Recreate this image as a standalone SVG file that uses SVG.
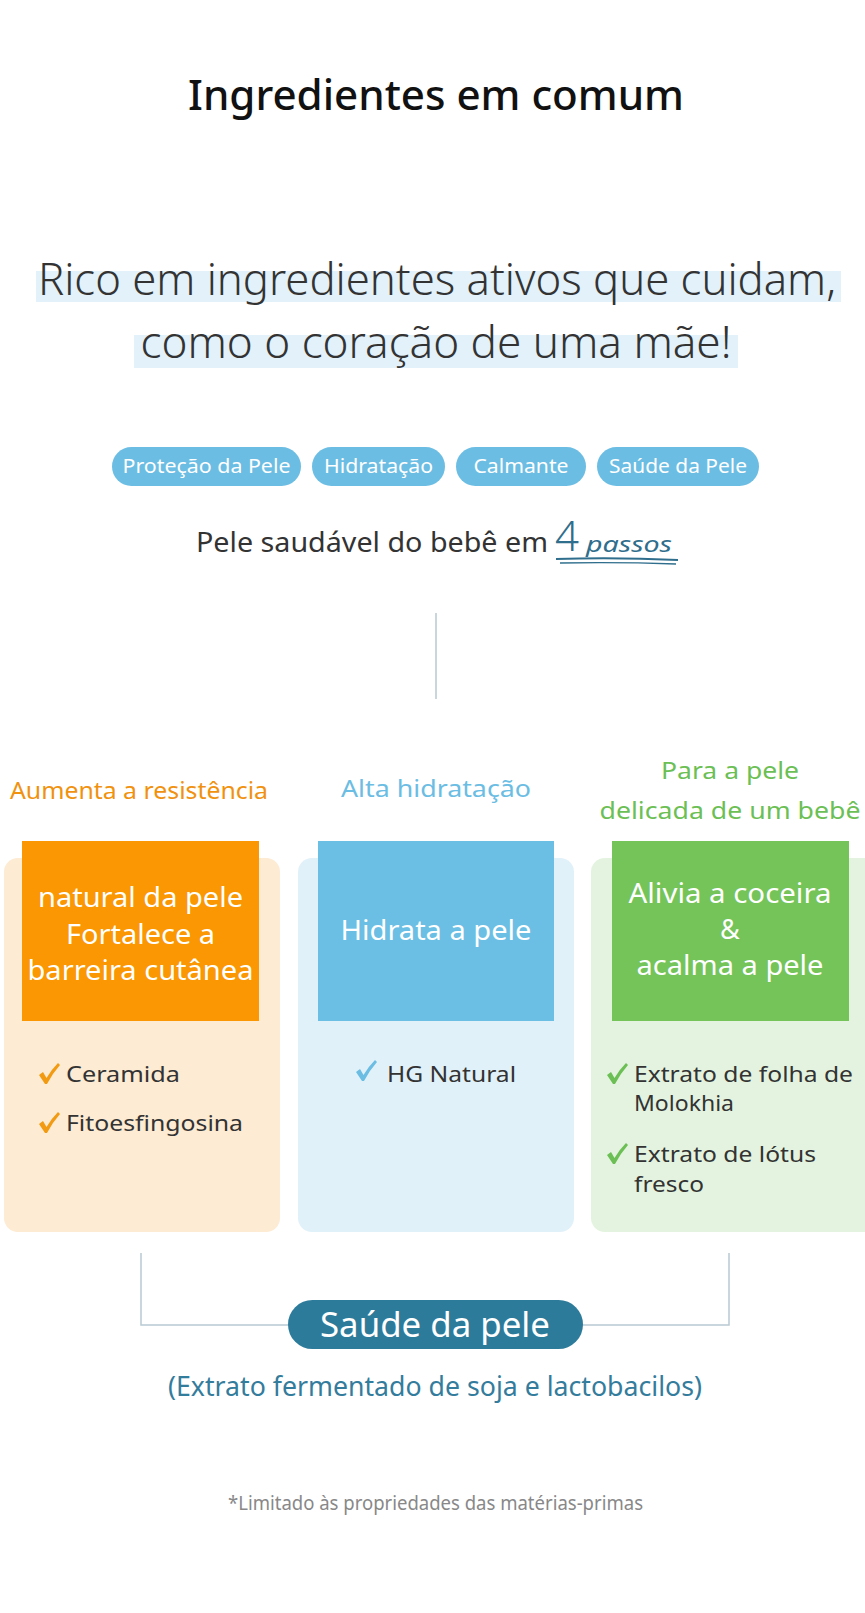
<svg xmlns="http://www.w3.org/2000/svg" width="865" height="1613" viewBox="0 0 865 1613">
<defs>
<style>
text{font-family:"Noto Sans","Open Sans","DejaVu Sans",sans-serif}
.c{text-anchor:middle}
.pill{fill:#6bbde3}
.pilltxt{fill:#ffffff;font-size:20px}
.boxtxt{fill:#ffffff;font-size:27px}
.item{fill:#333333;font-size:22px}
.conn{fill:none;stroke:#b9c9d3;stroke-width:1.5}
.hl{fill:#e2f1fa}
</style>
<path id="tick" d="M0,9 L4,6 L7.5,12 Q12,4 19,-3 L21,-1 Q13,8 8,18 L6,18 Z"/>
</defs>
<rect width="865" height="1613" fill="#ffffff"/>

<g id="title">
<text class="c" x="436" y="110" font-size="42" font-weight="500" fill="#111111" textLength="496" lengthAdjust="spacingAndGlyphs">Ingredientes em comum</text>
</g>

<g id="headline">
<rect class="hl" x="36" y="271" width="805" height="31"/>
<rect class="hl" x="134" y="335" width="604" height="33"/>
<text class="c" x="437" y="295" font-size="44" font-weight="300" fill="#333333" textLength="798" lengthAdjust="spacingAndGlyphs">Rico em ingredientes ativos que cuidam,</text>
<text class="c" x="436" y="358" font-size="44" font-weight="300" fill="#333333" textLength="591" lengthAdjust="spacingAndGlyphs">como o coração de uma mãe!</text>
</g>

<g id="tags">
<rect class="pill" x="112" y="447" width="189" height="39" rx="19.5"/>
<text class="c pilltxt" x="206.5" y="473" textLength="168" lengthAdjust="spacingAndGlyphs">Proteção da Pele</text>
<rect class="pill" x="312" y="447" width="133" height="39" rx="19.5"/>
<text class="c pilltxt" x="378.5" y="473" textLength="109" lengthAdjust="spacingAndGlyphs">Hidratação</text>
<rect class="pill" x="456" y="447" width="130" height="39" rx="19.5"/>
<text class="c pilltxt" x="521" y="473" textLength="95" lengthAdjust="spacingAndGlyphs">Calmante</text>
<rect class="pill" x="597" y="447" width="162" height="39" rx="19.5"/>
<text class="c pilltxt" x="678" y="473" textLength="138" lengthAdjust="spacingAndGlyphs">Saúde da Pele</text>
</g>

<g id="steps">
<text x="196" y="552" font-size="27" fill="#333333" textLength="352" lengthAdjust="spacingAndGlyphs">Pele saudável do bebê em</text>
<text x="555" y="551" font-size="42" font-weight="300" fill="#2f6e8c" font-family="DejaVu Sans">4</text>
<text x="586" y="552" font-size="21" font-style="italic" fill="#2f6e8c" font-family="DejaVu Sans" textLength="86" lengthAdjust="spacingAndGlyphs">passos</text>
<path d="M556,559 Q615,557 678,560" fill="none" stroke="#2f6e8c" stroke-width="2"/>
<path d="M560,563 Q620,562 676,564" fill="none" stroke="#2f6e8c" stroke-width="1.3"/>
</g>

<g id="connectors">
<line class="conn" x1="436" y1="613" x2="436" y2="699" stroke="#9fbccb"/>
<path class="conn" d="M141,1253 V1325 H288"/>
<path class="conn" d="M583,1325 H729 V1253"/>
</g>

<g id="col1">
<text class="c" x="139" y="799" font-size="24" fill="#f0920f" textLength="258" lengthAdjust="spacingAndGlyphs">Aumenta a resistência</text>
<rect x="4" y="858" width="276" height="374" rx="14" fill="#fdebd3"/>
<rect x="22" y="841" width="237" height="180" fill="#fa9702"/>
<text class="c boxtxt" x="140.5" y="907" textLength="205" lengthAdjust="spacingAndGlyphs">natural da pele</text>
<text class="c boxtxt" x="140.5" y="944" textLength="149" lengthAdjust="spacingAndGlyphs">Fortalece a</text>
<text class="c boxtxt" x="140.5" y="980" textLength="226" lengthAdjust="spacingAndGlyphs">barreira cutânea</text>
<use href="#tick" x="39" y="1066" fill="#f29b12"/>
<text class="item" x="66" y="1082" textLength="114" lengthAdjust="spacingAndGlyphs">Ceramida</text>
<use href="#tick" x="39" y="1115" fill="#f29b12"/>
<text class="item" x="66" y="1131" textLength="177" lengthAdjust="spacingAndGlyphs">Fitoesfingosina</text>
</g>

<g id="col2">
<text class="c" x="436" y="797" font-size="24" fill="#6bbde3" textLength="190" lengthAdjust="spacingAndGlyphs">Alta hidratação</text>
<rect x="298" y="858" width="276" height="374" rx="14" fill="#e1f1f9"/>
<rect x="318" y="841" width="236" height="180" fill="#6bbee4"/>
<text class="c boxtxt" x="436" y="940" textLength="191" lengthAdjust="spacingAndGlyphs">Hidrata a pele</text>
<use href="#tick" x="356" y="1063" fill="#6bbde3"/>
<text class="item" x="387" y="1082" textLength="129" lengthAdjust="spacingAndGlyphs">HG Natural</text>
</g>

<g id="col3">
<text class="c" x="730" y="779" font-size="24" fill="#6cbf55" textLength="138" lengthAdjust="spacingAndGlyphs">Para a pele</text>
<text class="c" x="730" y="819" font-size="24" fill="#6cbf55" textLength="261" lengthAdjust="spacingAndGlyphs">delicada de um bebê</text>
<rect x="591" y="858" width="288" height="374" rx="14" fill="#e4f3df"/>
<rect x="612" y="841" width="237" height="180" fill="#74c45a"/>
<text class="c boxtxt" x="730" y="903" textLength="203" lengthAdjust="spacingAndGlyphs">Alivia a coceira</text>
<text class="c boxtxt" x="730" y="939">&amp;</text>
<text class="c boxtxt" x="730" y="975" textLength="187" lengthAdjust="spacingAndGlyphs">acalma a pele</text>
<use href="#tick" x="607" y="1066" fill="#6cbf55"/>
<text class="item" x="634" y="1082" textLength="219" lengthAdjust="spacingAndGlyphs">Extrato de folha de</text>
<text class="item" x="634" y="1111" textLength="100" lengthAdjust="spacingAndGlyphs">Molokhia</text>
<use href="#tick" x="607" y="1146" fill="#6cbf55"/>
<text class="item" x="634" y="1162" textLength="182" lengthAdjust="spacingAndGlyphs">Extrato de lótus</text>
<text class="item" x="634" y="1192" textLength="70" lengthAdjust="spacingAndGlyphs">fresco</text>
</g>

<g id="result">
<rect x="288" y="1300" width="295" height="49" rx="24.5" fill="#2d7b9b"/>
<text class="c" x="435" y="1337" font-size="34" fill="#ffffff" textLength="230" lengthAdjust="spacingAndGlyphs">Saúde da pele</text>
<text class="c" x="435" y="1396" font-size="27" fill="#347c9c" textLength="534" lengthAdjust="spacingAndGlyphs">(Extrato fermentado de soja e lactobacilos)</text>
</g>

<g id="footnote">
<text class="c" x="435.5" y="1510" font-size="19" fill="#888888" textLength="415" lengthAdjust="spacingAndGlyphs">*Limitado às propriedades das matérias-primas</text>
</g>
</svg>
